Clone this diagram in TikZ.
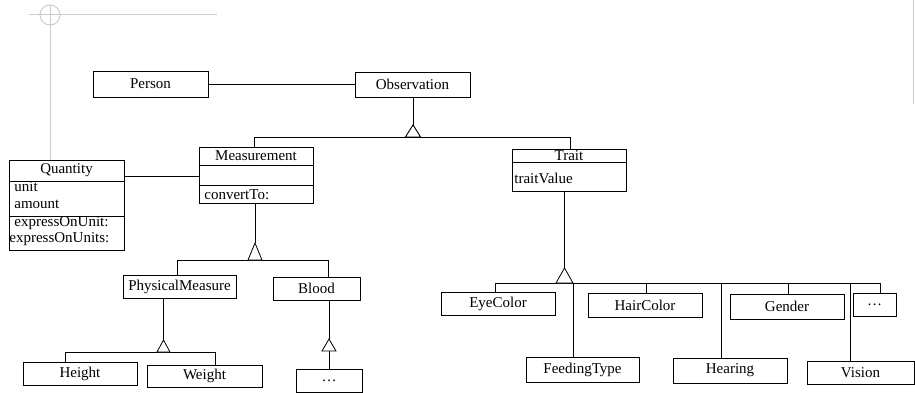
\documentclass[tikz,border=0pt]{standalone}
\usepackage{fontspec}
\setmainfont{Liberation Serif}
\begin{document}
\begin{tikzpicture}[x=1pt,y=-1pt,line width=0.8pt,
  box/.style={draw,rectangle,inner sep=0pt,font=\fontsize{15}{17}\selectfont},
  lbl/.style={inner sep=0pt,font=\fontsize{15}{17}\selectfont},
  crop/.style={draw=black!20,line width=1pt}]
\useasboundingbox (0,0) rectangle (915,393);
% crop marks
\draw[crop] (29,15) -- (217,15);
\draw[crop] (50,15) circle (10pt);
\draw[crop] (50,5) -- (50,160);
\draw[crop] (913,0) -- (913,104);
% boxes
\node[box,minimum width=115pt,minimum height=26pt] (person) at (150.5,84) {Person};
\node[box,minimum width=115pt,minimum height=25pt] (obs) at (412.5,84.5) {Observation};
\node[box,minimum width=115pt,minimum height=90pt] (quant) at (66.5,205) {};
\node[lbl] (quantT) at (66.5,170.5) {Quantity};
\node[lbl,anchor=west] (qunit) at (14,187) {unit};
\node[lbl,anchor=west] (qamount) at (14,204) {amount};
\node[lbl,anchor=west] (qexp1) at (14,223) {expressOnUnit:};
\node[lbl,anchor=west] (qexp2) at (9,239) {expressOnUnits:};
\draw (quant.west |- 0,181) -- (quant.east |- 0,181);
\draw (quant.west |- 0,216) -- (quant.east |- 0,216);
\node[box,minimum width=114pt,minimum height=56pt] (meas) at (256,175) {};
\node[lbl] (measT) at (256,156) {Measurement};
\node[lbl,anchor=west] (mconv) at (204,195) {convertTo:};
\draw (meas.west |- 0,165) -- (meas.east |- 0,165);
\draw (meas.west |- 0,185) -- (meas.east |- 0,185);
\node[box,minimum width=114pt,minimum height=42pt] (trait) at (569,170) {};
\node[lbl] (traitT) at (569,156) {Trait};
\node[lbl,anchor=west] (tval) at (514,178) {traitValue};
\draw (trait.west |- 0,162) -- (trait.east |- 0,162);
\node[box,minimum width=113pt,minimum height=23pt] (pm) at (179.5,286.5) {PhysicalMeasure};
\node[box,minimum width=87pt,minimum height=23pt] (blood) at (316.5,288.5) {Blood};
\node[box,minimum width=114pt,minimum height=23pt] (height) at (80,373.5) {Height};
\node[box,minimum width=115pt,minimum height=22pt] (weight) at (204.5,376) {Weight};
\node[box,minimum width=66pt,minimum height=23pt] (bdots) at (329,380.5) {\dots};
\node[box,minimum width=114pt,minimum height=23pt] (eye) at (498,303.5) {EyeColor};
\node[box,minimum width=114pt,minimum height=24pt] (hair) at (645,305) {HairColor};
\node[box,minimum width=114pt,minimum height=25pt] (gender) at (787,306.5) {Gender};
\node[box,minimum width=43pt,minimum height=23pt] (tdots) at (874.5,304.5) {\dots};
\node[box,minimum width=113pt,minimum height=25pt] (feed) at (582.5,369.5) {FeedingType};
\node[box,minimum width=114pt,minimum height=25pt] (hear) at (730,370.5) {Hearing};
\node[box,minimum width=107pt,minimum height=23pt] (vision) at (860.5,372.5) {Vision};
% associations
\draw (person.east) -- (obs.west |- person.east);
\coordinate (qm) at (0,176);
\draw (quant.east |- qm) -- (meas.west |- qm);
% Observation generalization
\coordinate (a1) at (413,125);
\draw (obs.south -| a1) -- (a1);
\draw[fill=white] (a1) -- (405.5,137) -- (420.5,137) -- cycle;
\coordinate (b1l) at (254,137);
\coordinate (b1r) at (570,137);
\draw (meas.north -| b1l) -- (b1l) -- (b1r) -- (trait.north -| b1r);
\draw[fill=white] (a1) -- (405.5,137) -- (420.5,137) -- cycle;
% Measurement generalization
\coordinate (a2) at (255,243);
\draw (meas.south -| a2) -- (a2);
\coordinate (b2l) at (177,260);
\coordinate (b2r) at (328,260);
\draw (pm.north -| b2l) -- (b2l) -- (b2r) -- (blood.north -| b2r);
\draw[fill=white] (a2) -- (248,260) -- (262,260) -- cycle;
% PhysicalMeasure generalization
\coordinate (a3) at (163.5,340);
\draw (pm.south -| a3) -- (a3);
\coordinate (b3l) at (65,352);
\coordinate (b3r) at (215,352);
\draw (height.north -| b3l) -- (b3l) -- (b3r) -- (weight.north -| b3r);
\draw[fill=white] (a3) -- (157,352) -- (170,352) -- cycle;
% Blood generalization
\coordinate (a4) at (329,339);
\coordinate (b4) at (329,351);
\draw (blood.south -| a4) -- (a4);
\draw (b4) -- (bdots.north -| b4);
\draw[fill=white] (a4) -- (322,351) -- (336,351) -- cycle;
% Trait generalization
\coordinate (a5) at (564.5,268);
\draw (trait.south -| a5) -- (a5);
\coordinate (b5l) at (495,283);
\coordinate (b5r) at (880,283);
\draw (b5l) -- (b5r);
\draw (eye.north -| b5l) -- (b5l);
\draw (feed.north -| 573,0) -- (573,283);
\draw (hair.north -| 646,0) -- (646,283);
\draw (hear.north -| 721,0) -- (721,283);
\draw (gender.north -| 788,0) -- (788,283);
\draw (vision.north -| 850,0) -- (850,283);
\draw (tdots.north -| b5r) -- (b5r);
\draw[fill=white] (a5) -- (556,283) -- (573,283) -- cycle;
\end{tikzpicture}
\end{document}
